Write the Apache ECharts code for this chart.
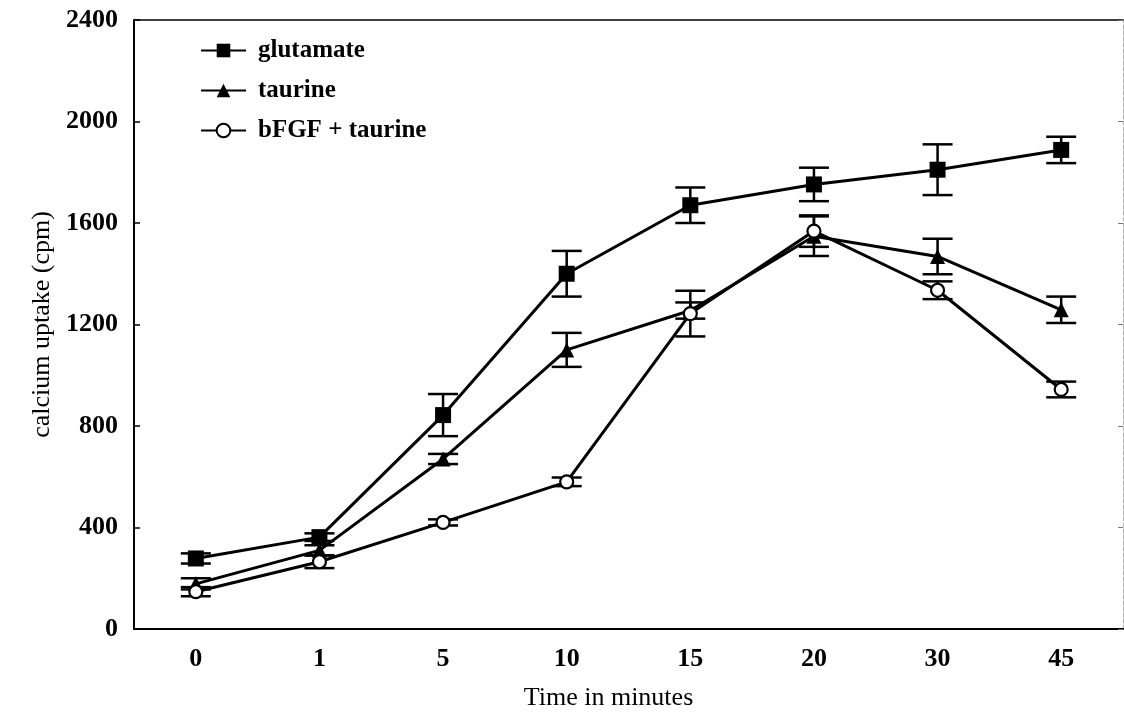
<!DOCTYPE html>
<html>
<head>
<meta charset="utf-8">
<script src="https://cdn.jsdelivr.net/npm/echarts@6/dist/echarts.min.js"></script>
<style>
  html, body { margin: 0; padding: 0; background: #fff; }
  #chart { width: 1124px; height: 722px; }
</style>
</head>
<body>
<div id="chart"></div>
<script>
// Time points (minutes)
const categories = ['0', '1', '5', '10', '15', '20', '30', '45'];
const yTicks = [0, 400, 800, 1200, 1600, 2000, 2400];

// Calcium uptake means (cpm) and error half-widths
const glutamate    = [278, 362, 843, 1400, 1670, 1752, 1810, 1888];
const glutamateErr = [20, 15, 83, 90, 70, 66, 100, 52];
const taurine      = [178, 310, 670, 1100, 1255, 1548, 1468, 1258];
const taurineErr   = [22, 20, 20, 67, 32, 78, 70, 52];
const bfgf         = [147, 265, 420, 580, 1243, 1568, 1335, 944];
const bfgfErr      = [18, 25, 12, 17, 90, 62, 35, 31];

const FONT = '"Liberation Serif", "Times New Roman", serif';
const INK = '#000';

function errData(means, errs) {
  return means.map((m, i) => [i, m, errs[i]]);
}

function renderErrorBar(params, api) {
  const i = api.value(0);
  const m = api.value(1);
  const e = api.value(2);
  const top = api.coord([i, m + e]);
  const bot = api.coord([i, m - e]);
  const hw = 15;
  const style = { stroke: INK, lineWidth: 2.5 };
  return {
    type: 'group',
    children: [
      { type: 'line', shape: { x1: top[0], y1: top[1], x2: bot[0], y2: bot[1] }, style },
      { type: 'line', shape: { x1: top[0] - hw, y1: top[1], x2: top[0] + hw, y2: top[1] }, style },
      { type: 'line', shape: { x1: bot[0] - hw, y1: bot[1], x2: bot[0] + hw, y2: bot[1] }, style }
    ]
  };
}

function lineSeries(name, values, symbol, size, fill) {
  return {
    name,
    type: 'line',
    data: values,
    symbol,
    symbolSize: size,
    showAllSymbol: true,
    z: 3,
    lineStyle: { color: INK, width: 3 },
    itemStyle: { color: fill, borderColor: INK, borderWidth: fill === '#fff' ? 2.2 : 0 },
    emphasis: { disabled: true }
  };
}

function errSeries(means, errs) {
  return {
    type: 'custom',
    renderItem: renderErrorBar,
    data: errData(means, errs),
    encode: { x: 0, y: 1 },
    z: 2,
    silent: true
  };
}

const chart = echarts.init(document.getElementById('chart'));
chart.setOption({
  backgroundColor: '#fff',
  animation: false,
  grid: { left: 134, top: 20, right: 1, bottom: 93 },
  legend: {
    data: ['glutamate', 'taurine', 'bFGF + taurine'],
    orient: 'vertical',
    left: 195,
    top: 32,
    itemWidth: 45,
    itemHeight: 17,
    itemGap: 13,
    textStyle: {
      fontFamily: FONT, fontSize: 25, fontWeight: 'bold', color: INK,
      lineHeight: 27, padding: [0, 0, 0, 7]
    }
  },
  xAxis: [
    {
      type: 'category',
      data: categories,
      boundaryGap: true,
      name: 'Time in minutes',
      nameLocation: 'middle',
      nameGap: 56,
      nameTextStyle: { fontFamily: FONT, fontSize: 26, color: INK, padding: [0, 40, 0, 0] },
      axisLine: { onZero: false, lineStyle: { color: INK, width: 2 } },
      axisTick: { inside: true, length: 5, lineStyle: { color: INK, width: 1.5 } },
      axisLabel: { fontFamily: FONT, fontSize: 26, fontWeight: 'bold', color: INK, margin: 17 },
      splitLine: { show: false }
    },
    {
      type: 'category',
      data: categories,
      position: 'top',
      boundaryGap: true,
      axisLine: { onZero: false, lineStyle: { color: INK, width: 1.5 } },
      axisTick: { inside: true, length: 5, lineStyle: { color: INK, width: 1.5 } },
      axisLabel: { show: false },
      splitLine: { show: false }
    }
  ],
  yAxis: [
    {
      type: 'value',
      min: yTicks[0],
      max: yTicks[yTicks.length - 1],
      interval: yTicks[1] - yTicks[0],
      name: 'calcium uptake (cpm)',
      nameLocation: 'middle',
      nameGap: 78,
      nameTextStyle: { fontFamily: FONT, fontSize: 26, color: INK },
      axisLine: { show: true, onZero: false, lineStyle: { color: INK, width: 2 } },
      axisTick: { show: true, inside: true, length: 6, lineStyle: { color: INK, width: 1.5 } },
      axisLabel: {
        fontFamily: FONT, fontSize: 26, fontWeight: 'bold', color: INK, margin: 16,
        formatter: v => String(v)
      },
      splitLine: { show: false }
    },
    {
      type: 'value',
      position: 'right',
      min: yTicks[0],
      max: yTicks[yTicks.length - 1],
      interval: yTicks[1] - yTicks[0],
      axisLine: { show: true, onZero: false, lineStyle: { color: '#b0b0b0', width: 1, type: 'dashed' } },
      axisTick: { show: true, inside: true, length: 5, lineStyle: { color: '#777', width: 1 } },
      axisLabel: { show: false },
      splitLine: { show: false }
    }
  ],
  series: [
    errSeries(glutamate, glutamateErr),
    errSeries(taurine, taurineErr),
    errSeries(bfgf, bfgfErr),
    lineSeries('glutamate', glutamate, 'rect', 16, INK),
    lineSeries('taurine', taurine, 'triangle', 15, INK),
    lineSeries('bFGF + taurine', bfgf, 'circle', 13, '#fff')
  ]
});
</script>
</body>
</html>
